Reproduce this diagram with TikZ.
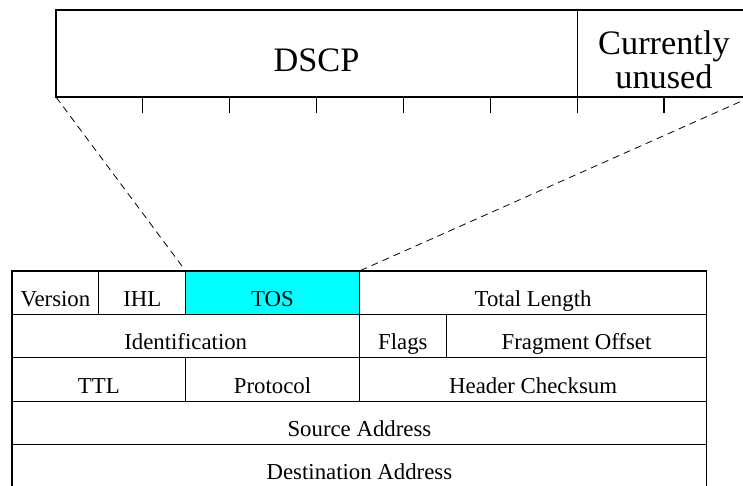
\documentclass[tikz,border=0pt]{standalone}
\usepackage{fontspec}
\setmainfont{Liberation Serif}
\usetikzlibrary{positioning}
\definecolor{tosfill}{RGB}{0,255,255}

\begin{document}
\begin{tikzpicture}[
    x=1pt, y=-1pt,
    field/.style={rectangle, draw, line width=1.1pt, inner sep=0pt, outer sep=0pt,
                  minimum height=43.4pt, text height=28pt, text depth=0.7pt,
                  font=\fontsize{22.8}{26}\selectfont},
    span/.style={minimum width=#1*86.85pt},
    bigfield/.style={field, minimum height=87pt, text height=36pt, text depth=0.4pt,
                     align=center, font=\fontsize{34.3}{34}\selectfont},
    fanout/.style={line width=0.8pt, dash pattern=on 7pt off 5pt}
  ]
  \useasboundingbox (0,0) rectangle (743,485);
  \clip (0,0) rectangle (743,485);

  % IPv4 header, one row per 32-bit word
  \node[field, span=1, anchor=north west] (version) at (12,271) {Version};
  \node[field, span=1, right=0pt of version] (ihl) {IHL};
  \node[field, span=2, fill=tosfill, right=0pt of ihl] (tos) {TOS};
  \node[field, span=4, right=0pt of tos] (totlen) {Total Length};

  \node[field, span=4, below right=0pt of version.south west] (ident) {Identification};
  \node[field, span=1, right=0pt of ident] (flags) {Flags};
  \node[field, span=3, right=0pt of flags] (fragoff) {Fragment Offset};

  \node[field, span=2, below right=0pt of ident.south west] (ttl) {TTL};
  \node[field, span=2, right=0pt of ttl] (proto) {Protocol};
  \node[field, span=4, right=0pt of proto] (chksum) {Header Checksum};

  \node[field, span=8, below right=0pt of ttl.south west] (srcaddr) {Source Address};
  \node[field, span=8, below right=0pt of srcaddr.south west] (dstaddr) {Destination Address};

  % the TOS byte blown up
  \node[bigfield, span=6, anchor=north west] (dscp) at (56,10) {DSCP};
  \node[bigfield, span=2, text height=70pt, right=0pt of dscp] (unused) {Currently\\unused};
  \foreach \k in {1,...,8}
    \draw[line width=1.1pt] ([xshift=\k*86.85pt]dscp.south west) -- ++(0,16);

  \draw[fanout] (dscp.south west) -- (tos.north west);
  \draw[fanout] (unused.south east) -- (tos.north east);
\end{tikzpicture}
\end{document}
